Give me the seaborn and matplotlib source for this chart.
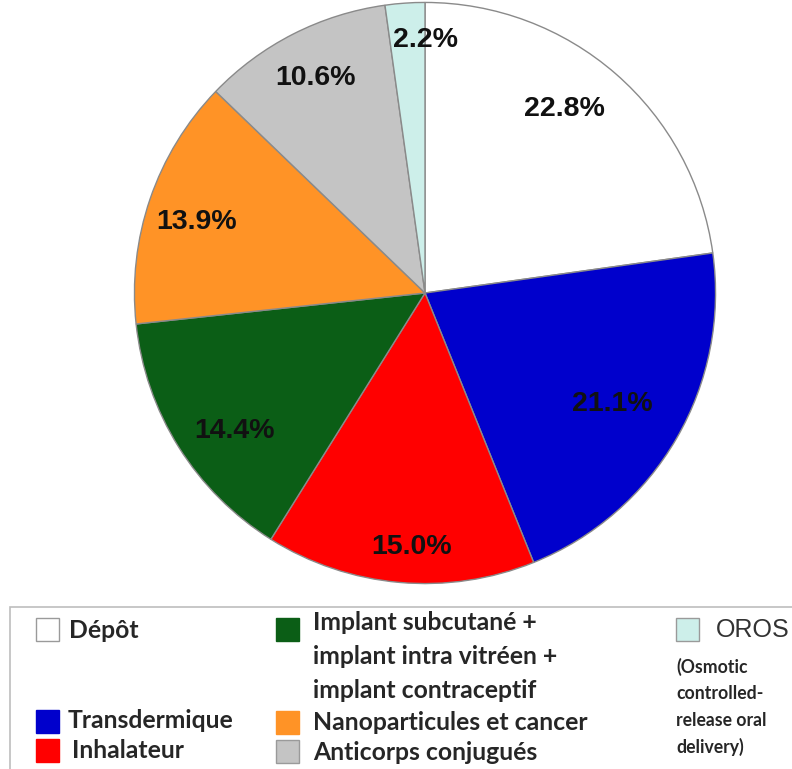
import matplotlib
matplotlib.use("Agg")
import matplotlib.pyplot as plt
import seaborn as sns
import numpy as np
from matplotlib.patches import Rectangle

sns.set_theme(style="white")
plt.rcParams['font.family'] = ['Liberation Sans', 'DejaVu Sans']

# Données
categories = ["Dépôt", "Transdermique", "Inhalateur",
              "Implant subcutané +\nimplant intra vitréen +\nimplant contraceptif",
              "Nanoparticules et cancer", "Anticorps conjugués", "OROS"]
parts = [22.8, 21.1, 15.0, 14.4, 13.9, 10.6, 2.2]
colors = ["#FFFFFF", "#0000CC", "#FF0000", "#0B5E16", "#FF9326", "#C4C4C4", "#CDEFEA"]

W, H = 792, 769
fig = plt.figure(figsize=(W / 100, H / 100), dpi=100)

# axe du camembert (centre ~ (425, 293), rayon ~ 292 px)
cx, cy, r = 425, 293, 292
ax = fig.add_axes([(cx - r) / W, 1 - (cy + r) / H, 2 * r / W, 2 * r / H])
wedges, texts, autotexts = ax.pie(
    parts, colors=colors, startangle=90, counterclock=False,
    autopct="%1.1f%%", pctdistance=0.8,
    wedgeprops=dict(edgecolor="#8a8a8a", linewidth=1.0),
    textprops=dict(fontsize=20.5, fontweight="bold", color="#111111"))
ax.set_xlim(-1.005, 1.005)
ax.set_ylim(-1.005, 1.005)
ax.set_aspect("equal")

# distance et décalage angulaire des étiquettes par part
label_r = [0.795, 0.75, 0.874, 0.81, 0.824, 0.83, 0.87]
label_da = [4, -0.5, 2, 4, 1.7, 0, 0]
for w, t, d, da in zip(wedges, autotexts, label_r, label_da):
    a = np.deg2rad((w.theta1 + w.theta2) / 2 + da)
    t.set_position((d * np.cos(a), d * np.sin(a)))
autotexts[-1].set_position((0.0, 0.87))


def px(x, y):
    return x / W, 1 - y / H


# cadre de la légende
fig.patches.append(Rectangle(px(10, 800), (W + 20) / W, 193 / H, transform=fig.transFigure,
                             facecolor="none", edgecolor="#bdbdbd", linewidth=1.2))

leg_font = ['Lato', 'DejaVu Sans']
# (x carré, y haut carré, x texte, y texte)
pos = [(36, 618, 69, 630), (36, 710, 68, 721), (36, 739, 72, 751),
       (276, 618, 313, 623), (276, 711, 313, 722), (276, 740, 313, 753),
       (676, 618, 716, 630)]
for cat, col, (sx, sy, tx, ty) in zip(categories, colors, pos):
    ec = "#9a9a9a" if col in ("#FFFFFF", "#C4C4C4", "#CDEFEA") else col
    fig.patches.append(Rectangle(px(sx, sy + 23), 23 / W, 23 / H, transform=fig.transFigure,
                                 facecolor=col, edgecolor=ec, linewidth=1))
    if cat == "OROS":
        fig.text(*px(tx, ty), cat, fontsize=18, color="#333333", va="center", ha="left",
                 family=['Liberation Sans', 'DejaVu Sans'])
    elif "\n" in cat:
        for i, line in enumerate(cat.split("\n")):
            fig.text(*px(tx, ty + i * 33.5), line, fontsize=17.8, fontweight="bold",
                     va="center", ha="left", family=leg_font)
    else:
        fig.text(*px(tx, ty), cat, fontsize=17.8, fontweight="bold",
                 va="center", ha="left", family=leg_font)

for i, line in enumerate(["(Osmotic", "controlled-", "release oral", "delivery)"]):
    fig.text(*px(676, 667 + i * 26.5), line, fontsize=12.7, fontweight="bold",
             va="center", ha="left", family=leg_font)

fig.savefig("out.png", dpi=100, facecolor="white")
